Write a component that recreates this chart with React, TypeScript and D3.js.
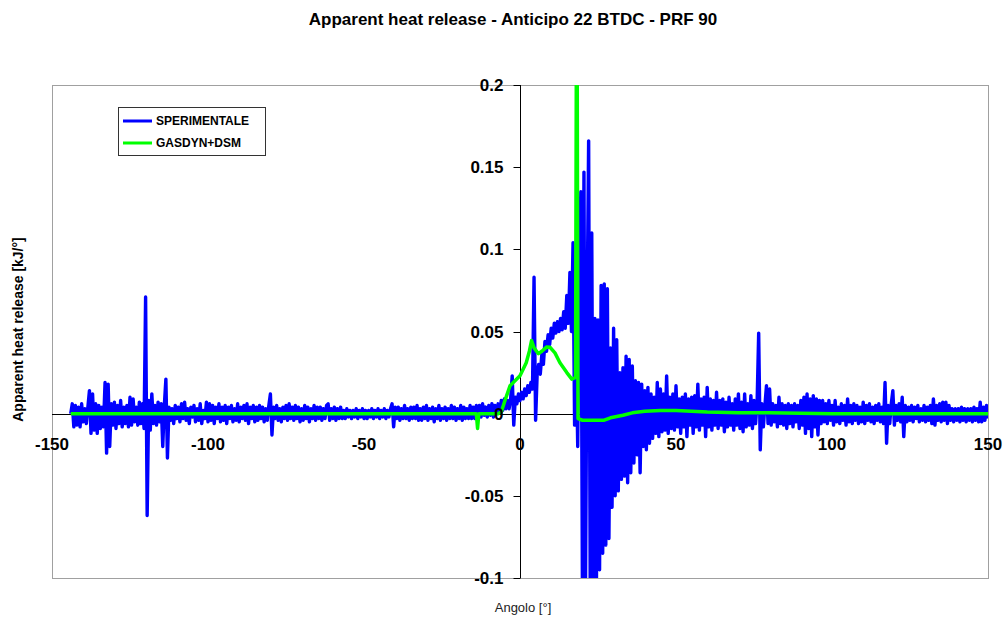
import React, { useEffect, useRef } from 'react';
import * as d3 from 'd3';

const titleText = 'Apparent heat release - Anticipo 22 BTDC - PRF 90';
const xTitle = 'Angolo [°]';
const yTitle = 'Apparent heat release [kJ/°]';
const xTicks = [-150, -100, -50, 0, 50, 100, 150];
const yTicks = [-0.1, -0.05, 0, 0.05, 0.1, 0.15, 0.2];
const seriesNames = ['SPERIMENTALE', 'GASDYN+DSM'];
const seriesColors = ['#0000ff', '#00ff00'];

// SPERIMENTALE, values in J/deg, one sample every 0.5 deg starting at -144
const sperStart = -144;
const sperStep = 0.5;
const sperimentaleJ = [
  0, 6, -8, 5, -7, 4, -8, 6, -5, 3, -6, 4, 14, -12, 12, -10, 6, -12, 5, -9,
  4, -8, 19, -24, 18, -20, 6, -7, 7, -9, 5, -6, 8, -8, 4, -6, 5, -8, 10, -7,
  9, -5, 4, -7, 7, -6, 6, -9, 71, -62, 8, -10, 12, -6, 5, -7, 7, -5, 6, -20,
  5, 21, -27, 4, -4, 3, -6, 5, -3, 4, -5, 6, -3, 7, -4, 3, -6, 4, -2, 5,
  -5, 3, -4, 6, -6, 2, -3, 7, -5, 6, -4, 5, -6, 4, -3, 6, -5, 4, -4, 5,
  -6, 4, -3, 5, -5, 3, -4, 6, -5, 4, -3, 5, -4, 6, -6, 4, -3, 5, -5, 4,
  -4, 5, -3, 4, -5, 3, -4, 5, 12, -13, 4, -3, 5, -4, 3, -5, 4, -3, 5, -4,
  6, -3, 4, -4, 5, -3, 4, -5, 3, -4, 5, -3, 4, -5, 3, -3, 5, -4, 4, -3,
  4, -4, 3, -3, 5, 6, -4, 3, -3, 4, -4, 3, -3, 4, -3, 2, -3, 3, -2, 2,
  -3, 2, -2, 3, -3, 2, -2, 3, -3, 2, -3, 2, -2, 3, -3, 2, -2, 3, -3, 2,
  -2, 3, -3, 2, -2, 3, 6, -8, 4, -3, 4, -4, 3, -3, 5, -3, 3, -4, 4, -3,
  4, -3, 5, -4, 3, -4, 4, -3, 5, -4, 3, -3, 4, -5, 3, -3, 5, -4, 3, -3,
  4, -4, 3, -3, 5, -3, 4, -4, 3, -3, 5, -4, 4, -3, 3, -3, 5, -3, 4, -3,
  5, -2, 5, -2, 6, -1, 4, -2, 5, -1, 6, -2, 5, 0, 6, 1, 8, 2, 9, 3,
  8, 3, 9, 23, -7, 10, 6, 12, 8, 13, 9, 15, 11, 17, 13, 19, 15, 83, -4, 24,
  30, 24, 36, 30, 44, 38, 48, 42, 52, 46, 55, 49, 56, 50, 58, 51, 62, 52, 72, 55,
  86, 50, 104, -7, 40, -20, 90, 135, -104, 147, -104, 60, 166, -104, 110, -104, 58, -104, 57, -95,
  78, -85, 79, -80, 76, -76, 40, -57, 52, -50, 45, -47, 25, -40, 28, -38, 35, -42, 33, -36,
  29, -30, 20, -25, 19, -36, 18, -20, 14, -22, 16, -18, 12, -15, 10, -12, 19, -14, 15, -11,
  12, -10, 23, -12, 10, -9, 12, -10, 17, -8, 9, -12, 10, -8, 12, -14, 9, -7, 10, -12,
  11, -8, 18, -10, 9, -7, 10, -14, 16, -8, 9, -10, 8, -7, 13, -9, 8, -7, 9, -11,
  7, -8, 10, -7, 6, -10, 9, -7, 12, -9, 7, -11, 12, -8, 6, -7, 11, -9, 8, -6,
  7, 49, -22, 6, -8, 5, 17, -6, 15, -7, 6, -5, 5, -8, 10, -6, 6, -7, 5, -9,
  6, -6, 5, -8, 6, -5, 5, -9, 8, -7, 10, -12, 12, -9, 9, -14, 11, -8, 9, -13,
  8, -6, 8, -5, 6, -6, 8, -4, 5, -7, 8, -5, 4, -6, 6, -4, 5, -7, 9, -5,
  5, -6, 6, -4, 5, -6, 4, -5, 7, -6, 5, -4, 6, -5, 4, -6, 5, -4, 6, -5,
  4, -6, 19, -18, 5, -6, 6, 14, -7, 5, -4, 6, -5, 10, -14, 5, -5, 4, -4, 5,
  -5, 4, -3, 5, -5, 3, -4, 5, -5, 4, -4, 5, -6, 9, -7, 5, -4, 6, -5, 7,
  -4, 7, -6, 5, -4, 3, -5, 3, -4, 3, -5, 4, -4, 3, -5, 3, -4, 3, -5, 4,
  -4, 3, -5, 7, -5, 4, -4, 5, -3,
];

// GASDYN+DSM, J/deg at the angles where the curve changes
const gasdynAngle = [
  -144, -14, -13.6, -13.2, -7, -6, -5, -3.2, 0, 2, 3, 3.7, 4.5, 5.9, 7, 8.5, 9.6, 11.2, 12.8,
  15, 16.6, 17.8, 18.2, 18.6, 20, 27, 29, 33, 36, 40, 45, 50, 55, 60, 70, 80, 100, 150,
];
const gasdynJ = [
  0, 0, -9, 0, 0, 1, 7, 17, 23, 31, 38, 44.5, 40, 36.5, 38, 40.5, 40.4, 37, 31,
  25, 21, 22, 320, -3, -4, -4, -2.5, -1, 0.5, 1.5, 2, 2, 1.5, 1, 0.5, 0.5, 0, 0,
];

const font = 'Arial, "Liberation Sans", sans-serif';

function HeatReleaseChart({ width, height }) {
  const svgRef = useRef(null);

  useEffect(() => {
    if (!svgRef.current) return;
    const svg = d3.select(svgRef.current);
    svg.selectAll('*').remove();

    const m = { left: 52, right: width - 988, top: 85, bottom: height - 578 };
    const x = d3.scaleLinear().domain([-150, 150]).range([m.left, width - m.right]);
    const y = d3.scaleLinear().domain([-0.1, 0.2]).range([height - m.bottom, m.top]);

    const sper = sperimentaleJ.map((v, i) => [sperStart + i * sperStep, v / 1000]);
    const gas = gasdynAngle.map((a, i) => [a, gasdynJ[i] / 1000]);

    svg.append('defs').append('clipPath').attr('id', 'plotClip')
      .append('rect')
      .attr('x', x(-150)).attr('y', y(0.2))
      .attr('width', x(150) - x(-150)).attr('height', y(-0.1) - y(0.2));

    // plot area frame
    svg.append('rect')
      .attr('x', x(-150) + 0.5).attr('y', y(0.2) + 0.5)
      .attr('width', x(150) - x(-150)).attr('height', y(-0.1) - y(0.2))
      .attr('fill', 'none').attr('stroke', '#a0a0a0');

    // axes crossing at zero
    const y0 = Math.round(y(0)) + 0.5;
    const x0 = Math.round(x(0)) + 0.5;
    svg.append('line')
      .attr('x1', x(-150)).attr('x2', x(150)).attr('y1', y0).attr('y2', y0)
      .attr('stroke', '#000');
    svg.append('line')
      .attr('x1', x0).attr('x2', x0).attr('y1', y(0.2)).attr('y2', y(-0.1))
      .attr('stroke', '#000');
    svg.append('g').selectAll('line').data(yTicks).join('line')
      .attr('x1', x0 - 7).attr('x2', x0)
      .attr('y1', d => Math.round(y(d)) + 0.5).attr('y2', d => Math.round(y(d)) + 0.5)
      .attr('stroke', '#000');

    const line = d3.line().x(d => x(d[0])).y(d => y(d[1]));
    const plot = svg.append('g').attr('clip-path', 'url(#plotClip)');
    plot.append('path').datum(sper)
      .attr('d', line).attr('fill', 'none')
      .attr('stroke', seriesColors[0]).attr('stroke-width', 3.4)
      .attr('stroke-linejoin', 'round');
    plot.append('path').datum(gas)
      .attr('d', line).attr('fill', 'none')
      .attr('stroke', seriesColors[1]).attr('stroke-width', 3.5)
      .attr('stroke-linejoin', 'round');

    // tick labels
    svg.append('g').selectAll('text').data(yTicks).join('text')
      .attr('x', x0 - 17).attr('y', d => y(d)).attr('dy', '0.36em')
      .attr('text-anchor', 'end')
      .style('font', `bold 17px ${font}`)
      .text(d => String(d));
    svg.append('g').selectAll('text').data(xTicks).join('text')
      .attr('x', d => x(d)).attr('y', y0 + 35)
      .attr('text-anchor', 'middle')
      .style('font', `bold 17px ${font}`)
      .text(d => String(d));

    // titles
    svg.append('text')
      .attr('x', 513).attr('y', 25).attr('text-anchor', 'middle')
      .style('font', `bold 17px ${font}`)
      .text(titleText);
    svg.append('text')
      .attr('x', x(0) + 3).attr('y', 612).attr('text-anchor', 'middle')
      .style('font', `13px ${font}`).attr('fill', '#222')
      .text(xTitle);
    svg.append('text')
      .attr('transform', `translate(23, ${(y(0.2) + y(-0.1)) / 2 - 2}) rotate(-90)`)
      .attr('text-anchor', 'middle')
      .style('font', `bold 14px ${font}`)
      .text(yTitle);

    // legend
    const lg = svg.append('g').attr('transform', 'translate(118, 107)');
    lg.append('rect')
      .attr('x', 0.5).attr('y', 0.5).attr('width', 147).attr('height', 48)
      .attr('fill', '#fff').attr('stroke', '#333');
    const item = lg.selectAll('g').data(seriesNames).join('g')
      .attr('transform', (d, i) => `translate(0, ${14 + i * 22})`);
    item.append('line')
      .attr('x1', 5).attr('x2', 34).attr('y1', 0).attr('y2', 0)
      .attr('stroke', (d, i) => seriesColors[i]).attr('stroke-width', 3);
    item.append('text')
      .attr('x', 38).attr('y', 0).attr('dy', '0.36em')
      .style('font', `bold 12px ${font}`)
      .text(d => d);

    return () => { svg.selectAll('*').remove(); };
  }, [width, height]);

  return (
    <svg ref={svgRef} width={width} height={height}
      style={{ position: 'absolute', left: 0, top: 0, background: '#fff' }} />
  );
}

export default function App() {
  return <HeatReleaseChart width={1008} height={621} />;
}
